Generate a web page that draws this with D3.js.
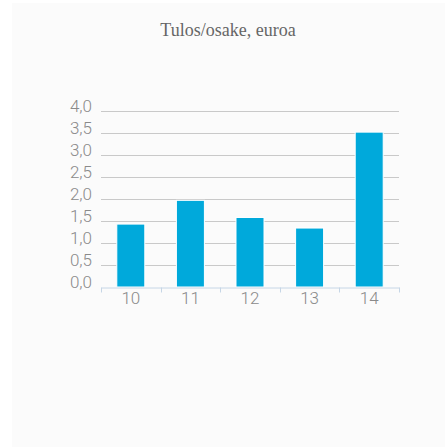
<!DOCTYPE html>
<html>
<head>
<meta charset="utf-8">
<script src="https://cdn.jsdelivr.net/npm/d3@7"></script>
<style>
  body { margin: 0; background: #ffffff; }
  svg { display: block; }
</style>
</head>
<body>
<div id="chart"></div>
<script>
var years = ["10", "11", "12", "13", "14"];
var values = [1.43, 1.97, 1.58, 1.34, 3.52];
var yTicks = [0, 0.5, 1, 1.5, 2, 2.5, 3, 3.5, 4];
var title = "Tulos/osake, euroa";

var width = 445,
    height = 447,
    margin = { top: 111, right: 46, bottom: 160, left: 101 };

var svg = d3.select("#chart")
    .append("svg")
      .attr("width", width)
      .attr("height", height);

// panel background
svg.append("rect")
    .attr("x", 12).attr("y", 3)
    .attr("width", width - 12).attr("height", height - 3)
    .attr("fill", "#fbfbfb");

svg.append("text")
    .attr("x", 228)
    .attr("y", 36)
    .attr("text-anchor", "middle")
    .attr("font-family", "Liberation Serif, serif")
    .attr("font-size", 18)
    .attr("fill", "#666")
    .text(title);

var x = d3.scaleBand()
    .domain(years)
    .range([margin.left, width - margin.right])
    .paddingInner(0.53)
    .paddingOuter(0.265);

var y = d3.scaleLinear()
    .domain([0, 4])
    .range([height - margin.bottom, margin.top]);

// gridlines
svg.append("g")
    .selectAll("line")
    .data(yTicks.slice(1))
    .enter().append("line")
      .attr("x1", margin.left)
      .attr("x2", width - margin.right)
      .attr("y1", function(d) { return Math.round(y(d)) + 0.5; })
      .attr("y2", function(d) { return Math.round(y(d)) + 0.5; })
      .attr("stroke", "#c9c9c9")
      .attr("stroke-width", 1);

// y labels
svg.append("g")
    .selectAll("text")
    .data(yTicks)
    .enter().append("text")
      .attr("x", 92)
      .attr("y", function(d) { return y(d) + 1; })
      .attr("text-anchor", "end")
      .attr("font-family", "Roboto, sans-serif")
      .attr("font-weight", 300)
      .attr("font-size", 17)
      .attr("fill", "#8a8a8a")
      .text(function(d) { return d3.format(".1f")(d).replace(".", ","); });

// bars
svg.append("g")
    .selectAll("rect")
    .data(values)
    .enter().append("rect")
      .attr("x", function(d, i) { return x(years[i]); })
      .attr("y", function(d) { return y(d); })
      .attr("width", x.bandwidth())
      .attr("height", function(d) { return y(0) - y(d); })
      .attr("fill", "#00a9db")
      .attr("stroke", "#ffffff")
      .attr("stroke-width", 1);

// x axis
var xAxis = d3.axisBottom(x).tickSize(0).tickPadding(4);
var gx = svg.append("g")
    .attr("transform", "translate(0," + (y(0) + 0.5) + ")")
    .call(xAxis);
gx.select(".domain").attr("stroke", "#c6d6e6");
gx.selectAll("text")
    .attr("font-family", "Roboto, sans-serif")
    .attr("font-weight", 300)
    .attr("font-size", 17)
    .attr("fill", "#8a8a8a");

// band boundary ticks
var step = x.step();
var bounds = d3.range(years.length + 1).map(function(i) { return margin.left + i * step; });
gx.append("g")
    .selectAll("line")
    .data(bounds)
    .enter().append("line")
      .attr("x1", function(d) { return Math.round(d) + 0.5; })
      .attr("x2", function(d) { return Math.round(d) + 0.5; })
      .attr("y1", 0)
      .attr("y2", 5)
      .attr("stroke", "#c6d6e6");
</script>
</body>
</html>
